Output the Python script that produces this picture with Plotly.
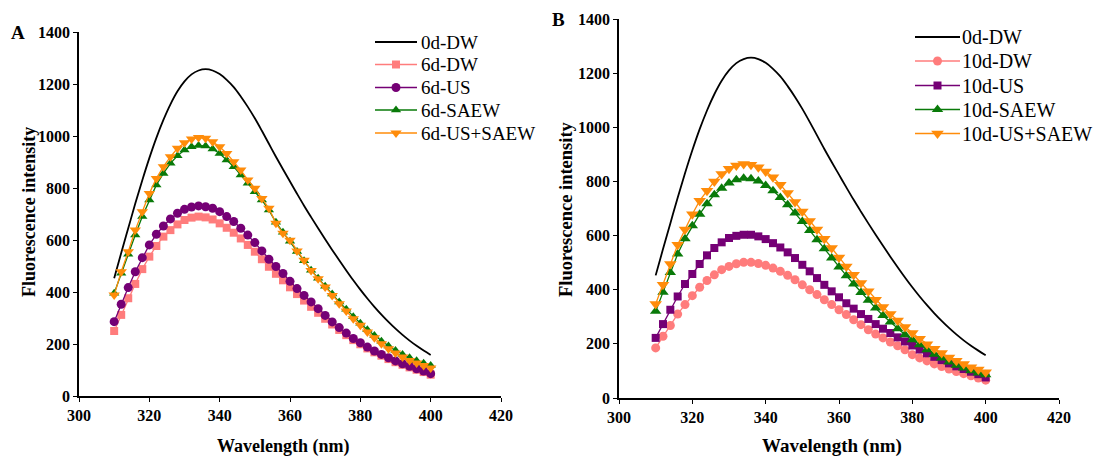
import plotly.graph_objects as go

wavelength = list(range(310, 401, 2))

dw_0d = [453, 550, 645, 740, 830, 915, 993, 1062, 1122, 1172, 1210, 1237, 1252, 1257, 1252, 1238,
         1216, 1188, 1152, 1112, 1068, 1020, 970, 920, 872, 825, 778, 732, 688, 645, 603, 562,
         522, 483, 445, 409, 375, 343, 313, 285, 259, 235, 213, 193, 175, 158]

# Panel A (6 days)
a_dw = [250, 312, 376, 431, 488, 536, 577, 613, 638, 660, 677, 686, 690, 687, 679, 664,
        647, 628, 606, 581, 555, 526, 497, 470, 445, 418, 392, 367, 343, 320, 297, 275,
        254, 234, 215, 199, 183, 168, 155, 142, 130, 120, 110, 101, 92, 82]
a_us = [286, 353, 417, 478, 532, 581, 622, 654, 681, 703, 718, 727, 731, 728, 722, 709,
        690, 671, 645, 619, 590, 558, 526, 498, 471, 441, 413, 387, 362, 336, 310, 285,
        263, 242, 221, 205, 188, 173, 160, 147, 135, 124, 114, 105, 96, 86]
a_saew = [395, 472, 545, 619, 690, 754, 812, 856, 895, 924, 946, 959, 963, 962, 950, 933,
          908, 882, 850, 818, 786, 754, 715, 668, 630, 595, 556, 520, 484, 453, 422, 392,
          362, 334, 305, 280, 255, 233, 211, 192, 175, 160, 147, 136, 126, 117]
a_us_saew = [388, 478, 555, 638, 709, 779, 837, 882, 920, 953, 974, 988, 994, 991, 978, 959,
             933, 901, 869, 831, 799, 760, 722, 664, 626, 599, 558, 522, 483, 451, 419, 387,
             355, 327, 297, 272, 246, 224, 201, 182, 165, 150, 137, 127, 117, 108]

# Panel B (10 days)
b_dw = [185, 228, 268, 310, 345, 378, 409, 434, 455, 474, 486, 496, 501, 501, 497, 490,
        480, 468, 453, 437, 418, 400, 382, 363, 345, 326, 308, 289, 271, 252, 236, 222,
        207, 193, 178, 160, 148, 137, 126, 116, 107, 98, 90, 82, 74, 66]
b_us = [222, 273, 326, 375, 421, 458, 495, 527, 554, 575, 591, 599, 603, 603, 597, 587,
        572, 556, 538, 517, 492, 468, 443, 418, 394, 372, 350, 330, 310, 292, 273, 256,
        240, 224, 209, 194, 179, 165, 152, 140, 128, 117, 107, 97, 88, 76]
b_saew = [320, 391, 464, 532, 588, 636, 679, 718, 751, 775, 794, 806, 812, 810, 802, 785,
          766, 741, 714, 683, 652, 619, 585, 551, 517, 484, 452, 421, 390, 361, 332, 305,
          281, 256, 234, 215, 197, 178, 162, 148, 133, 121, 111, 101, 92, 86]
b_us_saew = [347, 418, 495, 566, 622, 679, 729, 766, 800, 827, 847, 859, 864, 862, 852, 837,
             815, 788, 757, 724, 689, 654, 622, 588, 554, 519, 486, 455, 425, 394, 363, 336,
             310, 286, 262, 240, 219, 199, 182, 166, 150, 138, 126, 114, 105, 95]

x_ticks = [300, 320, 340, 360, 380, 400, 420]
y_ticks = [0, 200, 400, 600, 800, 1000, 1200, 1400]

names_a = ["0d-DW", "6d-DW", "6d-US", "6d-SAEW", "6d-US+SAEW"]
names_b = ["0d-DW", "10d-DW", "10d-US", "10d-SAEW", "10d-US+SAEW"]

PINK = "#FF7C7C"
PURPLE = "#750075"
GREEN = "#097A09"
ORANGE = "#FF8C0A"
COLORS = ["black", PINK, PURPLE, GREEN, ORANGE]
SERIF = "Liberation Serif, Times New Roman, serif"

# page offset (default body margin of the html page)
OFF = 8
W, H = 1109 - OFF, 457 - OFF

def px(x):
    return (x - OFF) / W

def py(y):
    return 1 - (y - OFF) / H

fig = go.Figure()

def add_panel(xa, ya, names, series, symbols, sizes):
    fig.add_trace(go.Scatter(x=wavelength, y=dw_0d, mode="lines", name=names[0],
                             line=dict(color="black", width=1.8, shape="spline"),
                             xaxis=xa, yaxis=ya, showlegend=False))
    for nm, s, c, sym, sz in zip(names[1:], series, COLORS[1:], symbols, sizes):
        fig.add_trace(go.Scatter(x=wavelength, y=s, mode="lines+markers", name=nm,
                                 line=dict(color=c, width=1.3),
                                 marker=dict(symbol=sym, size=sz, color=c),
                                 xaxis=xa, yaxis=ya, showlegend=False))

sym_a = ["square", "circle", "triangle-up", "triangle-down"]
sym_b = ["circle", "square", "triangle-up", "triangle-down"]
size_a = [8, 9, 9, 10]
size_b = [9, 8, 10, 11]
add_panel("x", "y", names_a, [a_dw, a_us, a_saew, a_us_saew], sym_a, size_a)
add_panel("x2", "y2", names_b, [b_dw, b_us, b_saew, b_us_saew], sym_b, size_b)

# manual legends drawn on an overlay axis measured in page pixels
def add_legend(names, symbols, sizes, x0, x1, xt, rows, fsize):
    for i, nm in enumerate(names):
        yy = rows[i]
        fig.add_trace(go.Scatter(x=[x0, x1], y=[yy, yy], mode="lines",
                                 line=dict(color=COLORS[i], width=1.8 if i == 0 else 1.5),
                                 xaxis="x3", yaxis="y3", showlegend=False, hoverinfo="skip"))
        if i > 0:
            fig.add_trace(go.Scatter(x=[(x0 + x1) / 2], y=[yy], mode="markers",
                                     marker=dict(symbol=symbols[i - 1], size=sizes[i - 1], color=COLORS[i]),
                                     xaxis="x3", yaxis="y3", showlegend=False, hoverinfo="skip"))
        fig.add_annotation(xref="x3", yref="y3", x=xt, y=yy, text=nm, showarrow=False,
                           xanchor="left", yanchor="middle",
                           font=dict(family=SERIF, size=fsize, color="black"))

add_legend(names_a, sym_a, size_a, 375, 417, 419, [42, 64.5, 87.5, 110, 133], 19)
add_legend(names_b, sym_b, size_b, 915, 960, 960, [37, 61, 85.5, 109.5, 133.5], 20)

tickfont = dict(family=SERIF, size=16, color="black")
ax_common = dict(showgrid=False, zeroline=False, showline=True, linecolor="black", linewidth=1.5,
                 ticks="outside", ticklen=4, tickwidth=1.3, tickcolor="black", tickfont=tickfont,
                 automargin=False)
x_text = ["<b>%d</b>" % v for v in x_ticks]
y_text = ["<b>%d</b>" % v for v in y_ticks]

fig.update_layout(
    width=W, height=H,
    margin=dict(l=0, r=0, t=0, b=0, autoexpand=False),
    paper_bgcolor="white", plot_bgcolor="rgba(0,0,0,0)",
    showlegend=False,
    xaxis=dict(domain=[px(79), px(501)], range=[300, 420], tickvals=x_ticks, ticktext=x_text, anchor="y", **ax_common),
    yaxis=dict(domain=[py(396), py(32)], range=[0, 1400], tickvals=y_ticks, ticktext=y_text, anchor="x", **ax_common),
    xaxis2=dict(domain=[px(619), px(1059)], range=[300, 420], tickvals=x_ticks, ticktext=x_text, anchor="y2", **ax_common),
    yaxis2=dict(domain=[py(398), py(19)], range=[0, 1400], tickvals=y_ticks, ticktext=y_text, anchor="x2", **ax_common),
    xaxis3=dict(domain=[0, 1], range=[OFF, OFF + W], visible=False, fixedrange=True, automargin=False),
    yaxis3=dict(domain=[0, 1], range=[OFF + H, OFF], visible=False, fixedrange=True, automargin=False,
                anchor="x3"),
)

title_font = dict(family=SERIF, size=18, color="black")
annos = [
    dict(text="<b>A</b>", x=px(18), y=py(32), font=dict(family=SERIF, size=19, color="black")),
    dict(text="<b>B</b>", x=px(558), y=py(20), font=dict(family=SERIF, size=19, color="black")),
    dict(text="<b>Fluorescence intensity</b>", x=px(29), y=py(212), textangle=-90, font=title_font),
    dict(text="<b>Fluorescence intensity</b>", x=px(566), y=py(209), textangle=-90,
         font=dict(family=SERIF, size=18.5, color="black")),
    dict(text="<b>Wavelength (nm)</b>", x=px(283), y=py(446), font=title_font),
    dict(text="<b>Wavelength (nm)</b>", x=px(832), y=py(446), font=dict(family=SERIF, size=19, color="black")),
]
for a in annos:
    fig.add_annotation(xref="paper", yref="paper", showarrow=False, xanchor="center", yanchor="middle", **a)

fig.write_html("out.html")
